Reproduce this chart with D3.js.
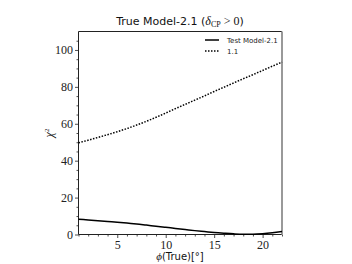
<!DOCTYPE html>
<html><head><meta charset="utf-8">
<script src="https://cdn.jsdelivr.net/npm/d3@7"></script>
<style>body{margin:0;background:#fff}svg{display:block}.tk text{font-family:"Liberation Serif","DejaVu Serif",serif !important;font-size:12px !important;}</style>
</head><body>
<script>
const phi = [1,2,3,4,5,6,7,8,9,10,11,12,13,14,15,16,17,18,19,20,21,22];
const model21 = [8.3,7.9,7.5,7.1,6.7,6.2,5.7,5.1,4.5,3.9,3.3,2.7,2.1,1.6,1.1,0.7,0.35,0.15,0.15,0.4,0.9,1.6];
const model11 = [49.7,51.1,52.6,54.1,55.7,57.4,59.3,61.3,63.5,65.8,68.2,70.5,72.8,75.1,77.5,79.8,82.1,84.4,86.6,88.9,91.2,93.4];
const xTicks = [5,10,15,20];
const yTicks = [0,20,40,60,80,100];
const legendLabels = ["Test Model-2.1","1.1"];

const W=352,H=264;
const m={l:78.5,r:282,t:31.5,b:234.5};
const svg=d3.select("body").append("svg").attr("width",W).attr("height",H);
const x=d3.scaleLinear().domain([1,22]).range([m.l,m.r]);
const y=d3.scaleLinear().domain([0,110]).range([m.b,m.t]);
const serif="Liberation Serif";
const sans="DejaVu Sans";

const xMinor=d3.range(1,23).filter(v=>!xTicks.includes(v));
const yMinor=d3.range(5,110,5).filter(v=>!yTicks.includes(v));
const xAx=svg.append("g").attr("transform",`translate(0,${m.b})`)
  .call(d3.axisBottom(x).tickValues(xMinor).tickSize(2).tickFormat(""));
const yAx=svg.append("g").attr("transform",`translate(${m.l},0)`)
  .call(d3.axisLeft(y).tickValues(yMinor).tickSize(2).tickFormat(""));
const xAxM=svg.append("g").attr("class","tk").attr("transform",`translate(0,${m.b})`)
  .call(d3.axisBottom(x).tickValues(xTicks).tickSize(3.5).tickPadding(2).tickFormat(d3.format("d")));
const yAxM=svg.append("g").attr("class","tk").attr("transform",`translate(${m.l},0)`)
  .call(d3.axisLeft(y).tickValues(yTicks).tickSize(3.5).tickPadding(2).tickFormat(d3.format("d")));
[xAx,yAx,xAxM,yAxM].forEach(g=>{g.select(".domain").remove();g.selectAll("line").attr("stroke","#222").attr("stroke-width",0.8);});
[xAxM,yAxM].forEach(g=>g.selectAll("text").attr("fill","#222"));

svg.append("line").attr("x1",m.l).attr("x2",m.r).attr("y1",m.t).attr("y2",m.t).attr("stroke","#222").attr("stroke-width",1);
svg.append("line").attr("x1",m.l).attr("x2",m.r).attr("y1",m.b).attr("y2",m.b).attr("stroke","#222").attr("stroke-width",1);
svg.append("line").attr("x1",m.l).attr("x2",m.l).attr("y1",m.t).attr("y2",m.b).attr("stroke","#222").attr("stroke-width",1);
svg.append("line").attr("x1",m.r).attr("x2",m.r).attr("y1",m.t).attr("y2",m.b).attr("stroke","#999").attr("stroke-width",2);

const line=d3.line().x((d,i)=>x(phi[i])).y(d=>y(d)).curve(d3.curveMonotoneX);
svg.append("path").datum(model21).attr("d",line).attr("fill","none").attr("stroke","#000").attr("stroke-width",1.5);
svg.append("path").datum(model11).attr("d",line).attr("fill","none").attr("stroke","#000").attr("stroke-width",1.5).attr("stroke-dasharray","1.5,1.5");

const lg=svg.append("g");
[[0,null],[1,"1.5,1.5"]].forEach(([i,dash])=>{
  const yy=40+i*11;
  const l=lg.append("line").attr("x1",205).attr("x2",219).attr("y1",yy).attr("y2",yy).attr("stroke","#000").attr("stroke-width",1.5);
  if(dash) l.attr("stroke-dasharray",dash);
  lg.append("text").attr("x",227).attr("y",yy+2.5).attr("font-family",sans).attr("font-size",7).attr("fill","#222").text(legendLabels[i]);
});

const t=svg.append("text").attr("x",180).attr("y",25).attr("text-anchor","middle").attr("font-family",sans).attr("font-size",11).attr("fill","#111");
t.append("tspan").text("True Model-2.1 (");
t.append("tspan").attr("font-family",serif).attr("font-style","italic").attr("font-size",12).text("δ");
t.append("tspan").attr("font-family",serif).attr("font-size",8).attr("dy",2).text("CP");
t.append("tspan").attr("font-family",serif).attr("font-size",12).attr("dy",-2).text(" > 0");
t.append("tspan").text(")");

svg.append("text").attr("x",180).attr("y",260).attr("text-anchor","middle").attr("font-family",sans).attr("font-size",10).attr("fill","#111")
  .html('<tspan font-family="Liberation Serif" font-style="italic" font-size="11">ϕ</tspan>(True)[°]');
svg.append("text").attr("transform","translate(53,133) rotate(-90)").attr("text-anchor","middle").attr("font-family",serif).attr("font-style","italic").attr("font-size",12).attr("fill","#111")
  .html('χ<tspan font-size="7" dy="-4" font-style="normal">2</tspan>');
</script>
</body></html>
